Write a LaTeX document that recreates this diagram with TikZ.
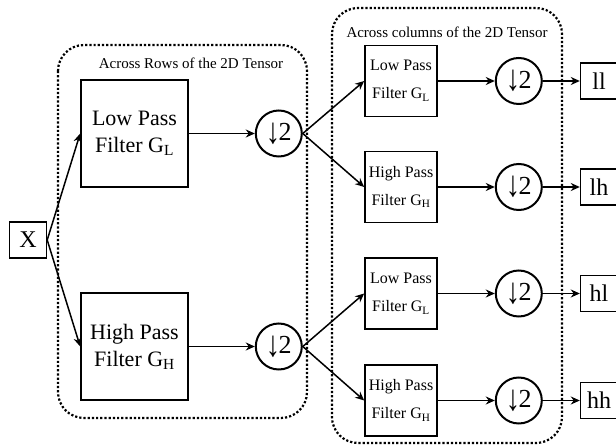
\documentclass[tikz,border=0pt]{standalone}
\usepackage{fontspec}
\setmainfont{Liberation Serif}
\usepackage{tikz}
\usetikzlibrary{arrows.meta,positioning}
\newcommand{\downtwo}{\raisebox{-2.5pt}{\scalebox{1.1}[1.4]{↓}}\kern-1.5pt 2}
\tikzset{
    %Define standard arrow tip
    >={Stealth[length=9pt,width=8pt]},
    %Define style for boxes
    bigfilter/.style={
           rectangle,
           draw=black, line width=1.6pt,
           minimum width=107pt,
           minimum height=107pt,
           inner sep=0pt,
           align=center,
           font=\fontsize{22}{27}\selectfont,
           },
    smallfilter/.style={
           rectangle,
           draw=black, line width=1.6pt,
           minimum width=72pt,
           minimum height=71pt,
           inner sep=0pt,
           align=center,
           font=\fontsize{16}{28}\selectfont,
           },
    downsample/.style={
           circle,
           draw=black, line width=2pt,
           minimum size=46pt,
           inner sep=0pt,
           font=\fontsize{26}{30}\selectfont,
           },
    outbox/.style={
           rectangle,
           draw=black, line width=1.4pt,
           minimum width=37pt,
           minimum height=36pt,
           inner sep=0pt,
           font=\fontsize{24}{28}\selectfont,
           },
    title/.style={
           font=\fontsize{15}{18}\selectfont,
           },
    % Define frame style
    frame/.style={
           -,
           dotted,
           line width=2.2pt,
           rounded corners=26pt,},
}

\begin{document}
\begin{tikzpicture}[x=1pt,y=-1pt,->,line width=1.5pt]
\useasboundingbox (0,0) rectangle (616,446);
% dotted frames
\draw[frame] (58,45) rectangle (307,418);
\draw[frame] (332,8) rectangle (562,443);
\node[title] (rowtitle) at (191,63) {Across Rows of the 2D Tensor};
\node[title] (coltitle) at (447,32) {Across columns of the 2D Tensor};
% input and row filters
\node[outbox] (x) at (28,240) {X};
\node[bigfilter] (gl) at (134.5,133.5) {Low Pass\\Filter G\textsubscript{L}};
\node[bigfilter] (gh) at (134.5,346.5) {High Pass\\Filter G\textsubscript{H}};
\node[downsample, right=66pt of gl] (dl) {\downtwo};
\node[downsample, right=66pt of gh] (dh) {\downtwo};
% column filters
\node[smallfilter] (ll) at (401,81) {Low Pass\\Filter G\textsubscript{L}};
\node[smallfilter] (lh) at (401,187) {High Pass\\Filter G\textsubscript{H}};
\node[smallfilter] (hl) at (401,293.5) {Low Pass\\Filter G\textsubscript{L}};
\node[smallfilter] (hh) at (401,400.5) {High Pass\\Filter G\textsubscript{H}};
\node[downsample, right=57pt of ll] (dll) {\downtwo};
\node[downsample, right=57pt of lh] (dlh) {\downtwo};
\node[downsample, right=57pt of hl] (dhl) {\downtwo};
\node[downsample, right=57pt of hh] (dhh) {\downtwo};
\node[outbox, right=37pt of dll] (oll) {ll};
\node[outbox, right=37pt of dlh] (olh) {lh};
\node[outbox, right=37pt of dhl] (ohl) {hl};
\node[outbox, right=37pt of dhh] (ohh) {hh};
\path[]
	(x.east) edge (gl.west)
	(x.east) edge (gh.west)
	(gl) edge (dl)
	(gh) edge (dh)
	(dl.east) edge (ll.west)
	(dl.east) edge (lh.west)
	(dh.east) edge (hl.west)
	(dh.east) edge (hh.west)
	(ll) edge (dll)
	(lh) edge (dlh)
	(hl) edge (dhl)
	(hh) edge (dhh)
	(dll) edge (oll)
	(dlh) edge (olh)
	(dhl) edge (ohl)
	(dhh) edge (ohh);
\end{tikzpicture}
\end{document}
